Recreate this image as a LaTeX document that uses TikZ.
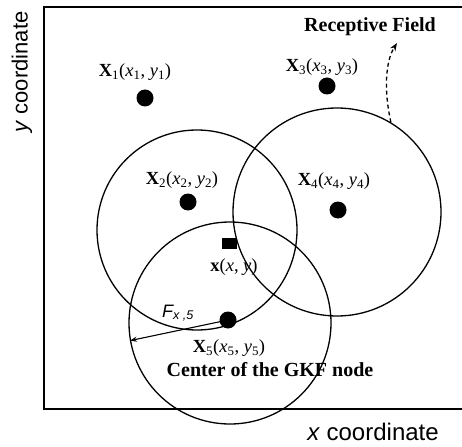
\documentclass[tikz,border=0pt]{standalone}
\usepackage{fontspec}
\setmainfont{Liberation Serif}
\setsansfont{Liberation Sans}
\usetikzlibrary{arrows.meta}
\newcommand{\xlbl}[1]{\textbf{X}\textsubscript{#1}(\textit{x}\textsubscript{#1}, \textit{y}\textsubscript{#1})}
\begin{document}
\begin{tikzpicture}[x=1pt,y=-1pt,
  field/.style={circle,draw,line width=1.3pt,inner sep=0pt},
  dot/.style={circle,fill=black,inner sep=0pt,minimum size=17pt},
  xl/.style={font=\fontsize{18.5}{20}\selectfont,inner sep=0pt},
  bl/.style={font=\fontsize{20}{22}\selectfont\bfseries,inner sep=0pt},
  axl/.style={font=\fontsize{22}{24}\sffamily,inner sep=0pt}]
\useasboundingbox (0,0) rectangle (462,446);
% frame
\draw[line width=1.8pt] (462,7) -- (44,7) -- (44,409) -- (462,409);
% receptive fields
\node[field,minimum size=200pt] (c2) at (197,230) {};
\node[field,minimum size=208pt] (c4) at (337,212) {};
\node[field,minimum size=202pt] (c5) at (230,323) {};
% centres
\node[dot] (d1) at (145,98) {};
\node[dot] (d2) at (188,202) {};
\node[dot] (d3) at (327,86) {};
\node[dot] (d4) at (338,210) {};
\node[dot] (d5) at (228,320) {};
\node[fill=black,minimum width=15pt,minimum height=11pt,inner sep=0pt] (sq) at (229,243) {};
% labels
\node[xl] (l1) at (135,72) {\xlbl{1}};
\node[xl] (l2) at (182,180) {\xlbl{2}};
\node[xl] (l3) at (322,67) {\xlbl{3}};
\node[xl] (l4) at (334,181) {\xlbl{4}};
\node[xl] (l5) at (229,348) {\xlbl{5}};
\node[xl] (lx) at (234,267) {\textbf{x}(\textit{x}, \textit{y})};
\node[font=\fontsize{18}{20}\sffamily\itshape,inner sep=0pt] (lf) at (178,313) {F\textsubscript{x ,5}};
\node[bl] (rf) at (370,27) {Receptive Field};
\node[bl] (cg) at (270,370) {Center of the GKF node};
\node[axl,rotate=90] (ya) at (22,72) {\textit{y} coordinate};
\node[axl,font=\fontsize{24}{26}\sffamily] (xa) at (373,432) {\textit{x} coordinate};
% arrows
\draw[line width=1.1pt,-{Stealth[length=7pt,width=5pt]}] (d5.center) -- (c5.190);
\coordinate (rt) at (397,43);
\draw[line width=1.3pt,dash pattern=on 4pt off 3pt,-{Stealth[length=8pt,width=6pt]}] (c4.59) .. controls (384,92) and (385,62) .. (rt);
\end{tikzpicture}
\end{document}
